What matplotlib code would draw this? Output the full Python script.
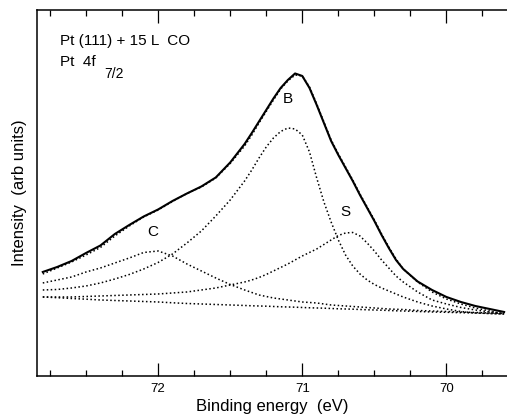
import matplotlib
matplotlib.use("Agg")
import matplotlib.pyplot as plt
from matplotlib.ticker import MultipleLocator

plt.rcParams['font.family'] = ['Liberation Sans', 'DejaVu Sans']

# binding energy grid (eV), finer around the main peak
energy = [72.8, 72.7, 72.6, 72.5, 72.4, 72.3, 72.2, 72.1, 72.0, 71.9, 71.8,
          71.7, 71.6, 71.5, 71.4,
          71.35, 71.3, 71.25, 71.2, 71.15, 71.1, 71.05, 71.0, 70.95, 70.9, 70.85,
          70.8, 70.75, 70.7, 70.65, 70.6, 70.55, 70.5, 70.45, 70.4, 70.35, 70.3,
          70.2, 70.1, 70.0, 69.9, 69.8, 69.7, 69.6]

# measured spectrum (solid)
measured = [10.4, 10.9, 11.5, 12.3, 13.05, 14.2, 15.1, 15.95, 16.65, 17.5, 18.25,
            18.95, 19.85, 21.35, 23.2,
            24.3, 25.45, 26.6, 27.75, 28.8, 29.6, 30.25, 30.0, 28.8, 27.1, 25.3,
            23.5, 22.1, 20.8, 19.5, 18.1, 16.8, 15.5, 14.1, 12.8, 11.6, 10.7,
            9.45, 8.6, 7.9, 7.4, 7.0, 6.7, 6.4]

# sum of the fitted components (dotted, hugging the data)
fit_sum = [10.2, 10.8, 11.4, 12.1, 12.85, 14.0, 15.0, 15.9, 16.6, 17.45, 18.25,
           18.9, 19.8, 21.25, 23.0,
           24.1, 25.3, 26.45, 27.6, 28.7, 29.5, 30.1, 30.0, 28.9, 27.2, 25.4,
           23.6, 22.2, 20.9, 19.6, 18.2, 16.9, 15.6, 14.2, 12.9, 11.7, 10.7,
           9.4, 8.4, 7.7, 7.2, 6.8, 6.5, 6.2]

# components B, S, C, each sitting on the background
comp_b = [8.6, 8.65, 8.8, 9.0, 9.3, 9.7, 10.15, 10.7, 11.35, 12.2, 13.3,
          14.5, 16.0, 17.6, 19.5,
          20.6, 21.8, 22.9, 23.8, 24.45, 24.8, 24.7, 24.1, 22.4, 19.8, 17.4,
          15.4, 13.6, 12.1, 11.0, 10.2, 9.6, 9.15, 8.8, 8.5, 8.2, 7.9,
          7.4, 7.0, 6.7, 6.45, 6.3, 6.25, 6.2]
comp_s = [7.9, 7.9, 7.9, 7.95, 8.0, 8.05, 8.1, 8.15, 8.2, 8.3, 8.4,
          8.6, 8.8, 9.1, 9.4,
          9.6, 9.85, 10.15, 10.5, 10.85, 11.2, 11.6, 12.0, 12.35, 12.7, 13.15,
          13.6, 14.05, 14.3, 14.35, 14.0, 13.3, 12.5, 11.6, 10.8, 10.0, 9.4,
          8.4, 7.6, 7.2, 6.85, 6.6, 6.4, 6.25]
comp_c = [9.3, 9.6, 9.9, 10.4, 10.8, 11.3, 11.8, 12.35, 12.5, 12.0, 11.2,
          10.5, 9.8, 9.15, 8.6,
          8.35, 8.1, 7.95, 7.8, 7.7, 7.6, 7.5, 7.4, 7.35, 7.3, 7.2,
          7.1, 7.05, 7.0, 6.95, 6.9, 6.85, 6.8, 6.75, 6.7, 6.67, 6.65,
          6.55, 6.5, 6.45, 6.4, 6.35, 6.3, 6.25]
background = [7.9, 7.83, 7.75, 7.68, 7.6, 7.55, 7.5, 7.45, 7.4, 7.32, 7.25,
              7.2, 7.15, 7.1, 7.05,
              7.02, 7.0, 6.98, 6.95, 6.92, 6.9, 6.88, 6.85, 6.82, 6.8, 6.78,
              6.75, 6.72, 6.7, 6.68, 6.65, 6.62, 6.6, 6.58, 6.55, 6.52, 6.5,
              6.45, 6.4, 6.37, 6.33, 6.3, 6.25, 6.2]

peak_labels = ['B', 'S', 'C']
peak_label_pos = [(71.10, 27.0), (70.70, 15.7), (72.04, 13.7)]

fig = plt.figure(figsize=(5.07, 4.15), dpi=100)
ax = fig.add_axes([0.073, 0.094, 0.927, 0.882])

dots = dict(color='k', lw=1.1, ls=(0, (1, 1.6)))
for comp in [comp_b, comp_s, comp_c, background]:
    ax.plot(energy, comp, **dots)
ax.plot(energy, fit_sum, **dots)
ax.plot(energy, measured, color='k', lw=1.5, solid_joinstyle='round')

for lab, (ex, iy) in zip(peak_labels, peak_label_pos):
    ax.text(ex, iy, lab, ha='center', va='bottom', fontsize=11)

ax.text(0.049, 0.905, 'Pt (111) + 15 L  CO', transform=ax.transAxes, fontsize=11)
ax.text(0.049, 0.848, 'Pt  4f', transform=ax.transAxes, fontsize=11)
ax.text(0.143, 0.815, '7/2', transform=ax.transAxes, fontsize=10)

ax.set_xlim(72.84, 69.58)
ax.set_ylim(0, 36.6)
ax.xaxis.set_major_locator(MultipleLocator(1))
ax.xaxis.set_minor_locator(MultipleLocator(0.25))
ax.set_yticks([])
ax.tick_params(axis='x', which='both', direction='in', top=True, width=0.9,
               labelsize=9.5, pad=5)
ax.tick_params(axis='x', which='major', length=9.5)
ax.tick_params(axis='x', which='minor', length=4.3)
ax.spines['right'].set_visible(False)
for s in ['left', 'bottom', 'top']:
    ax.spines[s].set_linewidth(1.1)

ax.set_xlabel('Binding energy  (eV)', fontsize=12, labelpad=3)
ax.set_ylabel('Intensity  (arb units)', fontsize=12, labelpad=7)

fig.savefig('out.png', dpi=100)
